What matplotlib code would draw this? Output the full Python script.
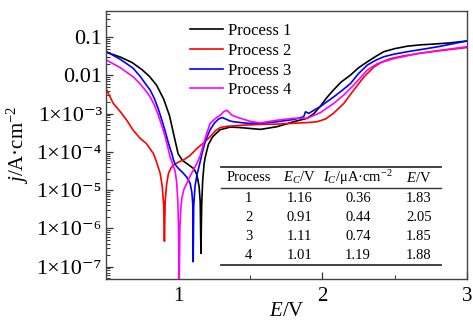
import math
import matplotlib
matplotlib.use('Agg')
import matplotlib.pyplot as plt
from matplotlib.ticker import FixedLocator, FuncFormatter, LogLocator, NullFormatter
from matplotlib.lines import Line2D

plt.rcParams['font.family'] = ['Liberation Serif', 'DejaVu Serif']
plt.rcParams['mathtext.fontset'] = 'custom'
plt.rcParams['mathtext.rm'] = 'Liberation Serif'
plt.rcParams['mathtext.it'] = 'Liberation Serif:italic'
plt.rcParams['mathtext.bf'] = 'Liberation Serif:bold'

# potential E (V) and log10 of current density j (A/cm2)
E1 = [0.50, 0.60, 0.68, 0.75, 0.80, 0.85, 0.90, 0.94, 0.97, 1.00, 1.03, 1.07, 1.11, 1.13,
      1.145, 1.153, 1.158, 1.163, 1.170, 1.18, 1.19, 1.21, 1.24, 1.29, 1.36, 1.42, 1.48,
      1.57, 1.685, 1.80, 1.894, 1.94, 1.986, 2.03, 2.076, 2.13, 2.194, 2.25, 2.31, 2.37,
      2.424, 2.50, 2.588, 2.68, 2.771, 2.88, 3.0]
L1 = [-1.39, -1.52, -1.66, -1.85, -2.02, -2.25, -2.62, -3.05, -3.55, -4.05, -4.22, -4.33,
      -4.44, -4.60, -4.90, -5.30, -6.65, -5.40, -4.75, -4.30, -4.10, -3.80, -3.60, -3.42,
      -3.35, -3.36, -3.38, -3.41, -3.34, -3.21, -3.12, -3.00, -2.80, -2.58, -2.38, -2.17,
      -1.99, -1.80, -1.645, -1.50, -1.38, -1.30, -1.235, -1.20, -1.18, -1.15, -1.10]

E2 = [0.505, 0.549, 0.60, 0.644, 0.688, 0.736, 0.78, 0.806, 0.83, 0.852, 0.875, 0.89,
      0.900, 0.905, 0.910, 0.92, 0.933, 0.95, 0.967, 1.00, 1.037, 1.08, 1.13, 1.18, 1.222,
      1.26, 1.292, 1.338, 1.451, 1.569, 1.70, 1.799, 1.90, 1.963, 2.02, 2.076, 2.148,
      2.217, 2.287, 2.356, 2.41, 2.472, 2.56, 2.658, 2.80, 3.0]
L2 = [-2.38, -2.72, -2.95, -3.17, -3.43, -3.64, -3.78, -3.92, -4.05, -4.28, -4.55, -4.90,
      -5.40, -6.33, -5.30, -4.85, -4.56, -4.42, -4.34, -4.27, -4.21, -4.10, -3.91, -3.75,
      -3.60, -3.44, -3.36, -3.33, -3.30, -3.28, -3.27, -3.25, -3.23, -3.21, -3.14, -2.99,
      -2.73, -2.38, -2.04, -1.78, -1.65, -1.56, -1.49, -1.43, -1.36, -1.27]

E3 = [0.505, 0.60, 0.688, 0.736, 0.78, 0.806, 0.835, 0.863, 0.89, 0.910, 0.935, 0.956,
      0.967, 0.98, 1.002, 1.037, 1.06, 1.083, 1.095, 1.102, 1.104, 1.108, 1.117, 1.130,
      1.15, 1.165, 1.19, 1.222, 1.25, 1.28, 1.306, 1.33, 1.36, 1.384, 1.477, 1.569, 1.685,
      1.801, 1.870, 1.882, 1.905, 1.986, 2.078, 2.14, 2.194, 2.25, 2.310, 2.37, 2.426,
      2.50, 2.588, 2.80, 3.0]
L3 = [-1.38, -1.58, -1.81, -2.02, -2.25, -2.38, -2.60, -2.88, -3.20, -3.45, -3.80, -4.04,
      -4.20, -4.33, -4.43, -4.56, -4.66, -4.82, -5.05, -5.40, -6.87, -5.40, -4.90, -4.60,
      -4.30, -4.05, -3.70, -3.42, -3.25, -3.14, -3.10, -3.14, -3.19, -3.21, -3.25, -3.25,
      -3.21, -3.15, -3.08, -2.95, -2.99, -2.81, -2.56, -2.38, -2.21, -1.95, -1.73, -1.60,
      -1.51, -1.44, -1.38, -1.25, -1.10]

E4 = [0.505, 0.60, 0.690, 0.736, 0.78, 0.806, 0.835, 0.863, 0.89, 0.910, 0.93, 0.944,
      0.965, 0.979, 0.99, 0.998, 1.003, 1.007, 1.012, 1.018, 1.026, 1.04, 1.060, 1.08,
      1.106, 1.13, 1.153, 1.175, 1.199, 1.222, 1.26, 1.292, 1.315, 1.338, 1.355, 1.373,
      1.40, 1.431, 1.50, 1.569, 1.685, 1.801, 1.894, 1.986, 2.078, 2.148, 2.217, 2.310,
      2.380, 2.495, 2.658, 2.80, 3.0]
L4 = [-1.60, -1.80, -2.04, -2.22, -2.42, -2.56, -2.77, -3.04, -3.35, -3.60, -3.90, -4.13,
      -4.35, -4.50, -4.80, -5.30, -6.00, -7.60, -6.00, -5.50, -5.20, -4.98, -4.82, -4.65,
      -4.47, -4.30, -4.10, -3.80, -3.51, -3.25, -3.12, -3.04, -2.95, -2.91, -2.97, -3.04,
      -3.08, -3.12, -3.20, -3.24, -3.17, -3.12, -3.12, -2.97, -2.73, -2.51, -2.25, -1.86,
      -1.69, -1.56, -1.43, -1.35, -1.25]

labels = ['Process 1', 'Process 2', 'Process 3', 'Process 4']
colors = ['black', '#ff0000', '#0000ff', '#ff00ff']

# table inset
tab_head = ['Process', '$E_C$/V', '$I_C$/\u03bcA\u00b7cm$^{-2}$', '$E$/V']
tab_proc = ['1', '2', '3', '4']
tab_Ec = ['1.16', '0.91', '1.11', '1.01']
tab_Ic = ['0.36', '0.44', '0.74', '1.19']
tab_Ev = ['1.83', '2.05', '1.85', '1.88']

y_decades = [1e-7, 1e-6, 1e-5, 1e-4, 1e-3, 0.01, 0.1]

SUP = str.maketrans('-0123456789', '\u207b\u2070\u00b9\u00b2\u00b3\u2074\u2075\u2076\u2077\u2078\u2079')

fig, ax = plt.subplots(figsize=(4.73, 3.27), dpi=100)
fig.subplots_adjust(left=0.224, right=0.987, bottom=0.147, top=0.966)

series = [(E1, L1), (E2, L2), (E3, L3), (E4, L4)]
for (e, l), lab, c in zip(series, labels, colors):
    ax.plot(e, [10 ** v for v in l], color=c, lw=1.2, label=lab)

ax.set_yscale('log')
ax.set_xlim(0.5, 3.0)
ax.set_ylim(4.8e-8, 0.48)

ax.xaxis.set_major_locator(FixedLocator([1, 2, 3]))
ax.xaxis.set_minor_locator(FixedLocator([0.5, 1.5, 2.5]))
ax.xaxis.set_major_formatter(FuncFormatter(lambda v, p: '%d' % v))

def yfmt(v, p):
    k = int(round(math.log10(v)))
    if k >= -2:
        return '%g' % v
    return '1\u00d710' + str(k).translate(SUP)

ax.yaxis.set_major_locator(FixedLocator(y_decades))
ax.yaxis.set_minor_locator(LogLocator(base=10, subs=range(2, 10), numticks=20))
ax.yaxis.set_major_formatter(FuncFormatter(yfmt))
ax.yaxis.set_minor_formatter(NullFormatter())

ax.tick_params(which='both', direction='in', top=False, right=False, colors='#333333',
               labelcolor='black')
ax.tick_params(axis='y', labelsize=16, pad=3)
ax.tick_params(axis='x', labelsize=15, pad=6)
ax.tick_params(which='major', length=5, width=0.9)
ax.tick_params(which='minor', length=3, width=0.7)
for s in ax.spines.values():
    s.set_color('#444444')
    s.set_linewidth(1.0)

ax.set_xlabel('$E$/V', fontsize=15, labelpad=-3)
ax.set_ylabel('$j$/A\u00b7cm$^{-2}$', fontsize=15, labelpad=4)

ax.legend(loc='upper left', bbox_to_anchor=(0.233, 0.955), frameon=False, fontsize=12,
          handlelength=2.0, handletextpad=0.3, labelspacing=0.22, borderpad=0, borderaxespad=0)

# table drawn in axes fraction
cols_x = [0.396, 0.537, 0.698, 0.867]
head_y = 0.377
rows_y = [0.300, 0.230, 0.160, 0.088]
for x, h in zip(cols_x, tab_head):
    ax.text(x, head_y, h, transform=ax.transAxes, ha='center', va='center', fontsize=10.5)
for i, row in enumerate(zip(tab_proc, tab_Ec, tab_Ic, tab_Ev)):
    for x, t in zip(cols_x, row):
        ax.text(x, rows_y[i], t, transform=ax.transAxes, ha='center', va='center', fontsize=10.5)
for yy, lw in [(0.418, 1.3), (0.340, 1.0), (0.052, 1.3)]:
    ax.add_line(Line2D([0.319, 0.928], [yy, yy], transform=ax.transAxes, color='#333333', lw=lw))

fig.savefig('out.png', dpi=100)
